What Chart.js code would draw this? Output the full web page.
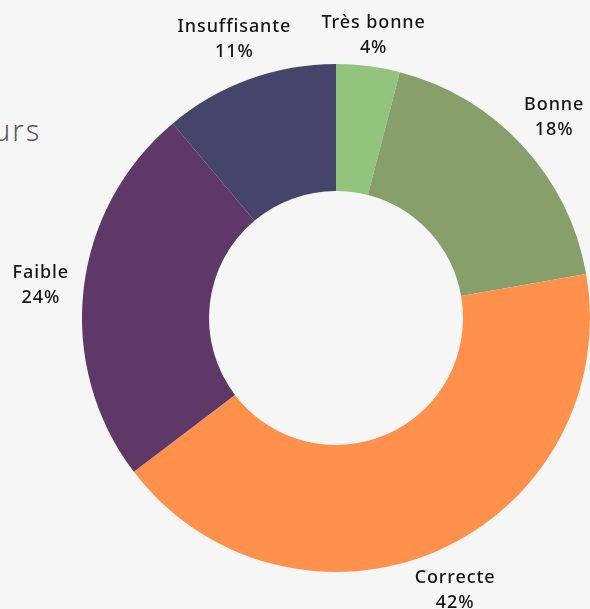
<!DOCTYPE html>
<html>
<head>
<meta charset="utf-8">
<script src="https://cdn.jsdelivr.net/npm/chart.js@4"></script>
<style>
  html, body { margin: 0; padding: 0; background: #f6f6f6; overflow: hidden; }
  #wrap { position: relative; width: 590px; height: 609px; }
  #title { position: absolute; left: -7px; top: 110px; font-family: "Noto Sans", sans-serif; font-weight: 300;
           font-size: 29px; color: #5a5a5a; letter-spacing: 2px; white-space: nowrap; }
  canvas { position: absolute; left: 0; top: 0; }
</style>
</head>
<body>
<div id="wrap">
  <div id="title">urs</div>
  <canvas id="donut" width="590" height="609"></canvas>
</div>
<script>
// data
const labels = ['Très bonne', 'Bonne', 'Correcte', 'Faible', 'Insuffisante'];
const percents = [4, 18, 42, 24, 11];
const colors = ['#93c47d', '#87a06b', '#ff914d', '#5e3867', '#45456b'];

// draws name + percent outside each slice
const outsideLabels = {
    id: 'outsideLabels',
    afterDatasetsDraw(chart) {
        const ctx = chart.ctx;
        const arcs = chart.getDatasetMeta(0).data;
        ctx.save();
        ctx.fillStyle = '#151515';
        ctx.font = '500 18px "Noto Sans", sans-serif';
        ctx.letterSpacing = '0.9px';
        ctx.textAlign = 'center';
        ctx.textBaseline = 'middle';
        arcs.forEach((arc, i) => {
            const mid = (arc.startAngle + arc.endAngle) / 2;
            const r = arc.outerRadius + 43;
            const x = arc.x + Math.cos(mid) * r;
            let y = arc.y + Math.sin(mid) * r;
            if (y < 35) y = 35;
            ctx.fillText(labels[i], x, y - 12);
            ctx.fillText(percents[i] + '%', x, y + 13);
        });
        ctx.restore();
    }
};

new Chart(document.getElementById('donut'), {
    type: 'doughnut',
    data: {
        labels: labels,
        datasets: [{
            data: percents,
            backgroundColor: colors,
            borderWidth: 0
        }]
    },
    options: {
        responsive: false,
        animation: false,
        cutout: '50%',
        layout: { padding: { left: 82, right: 0, top: 64, bottom: 37 } },
        plugins: {
            legend: { display: false },
            tooltip: { enabled: false }
        }
    },
    plugins: [outsideLabels]
});
</script>
</body>
</html>
